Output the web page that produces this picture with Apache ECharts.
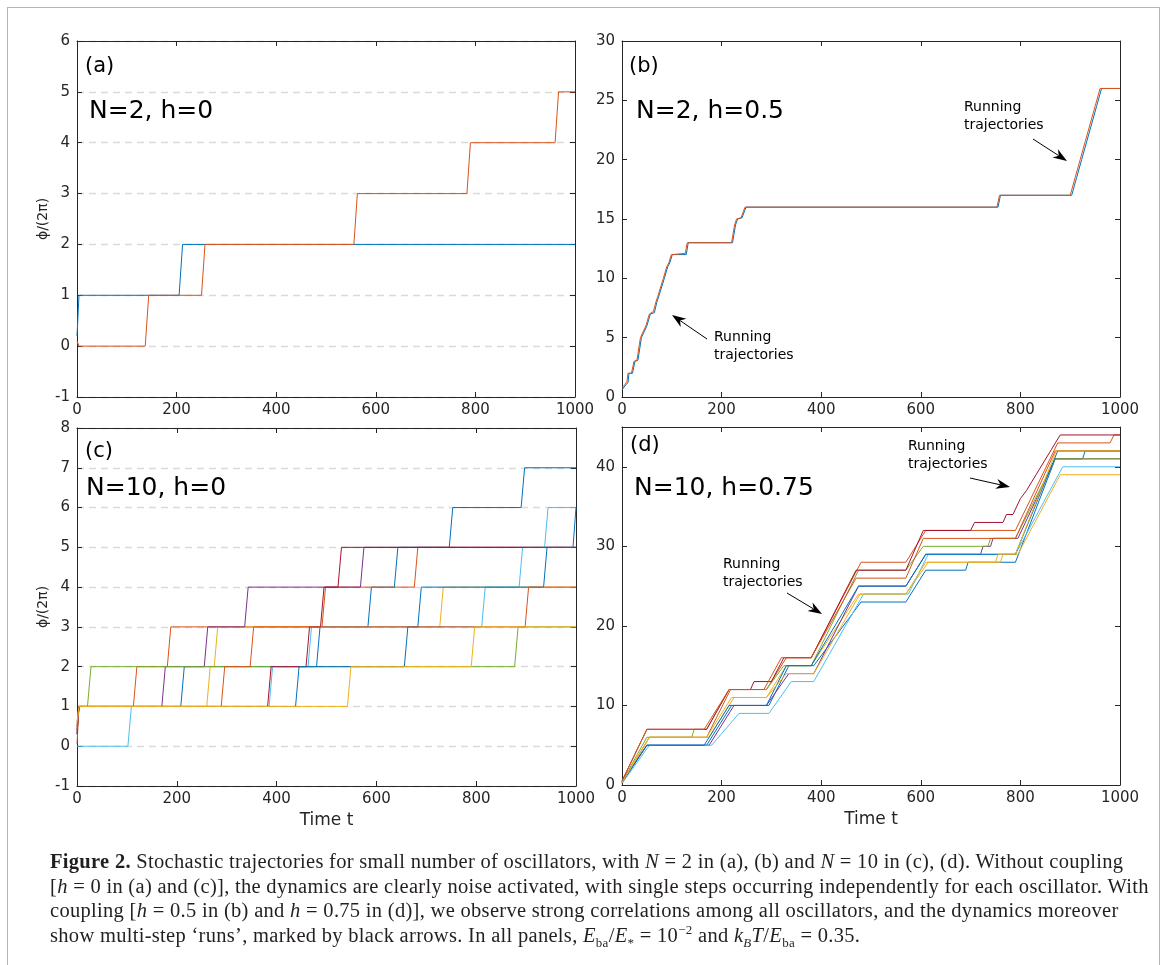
<!DOCTYPE html>
<html>
<head>
<meta charset="utf-8">
<script src="https://cdn.jsdelivr.net/npm/echarts@6/dist/echarts.min.js"></script>
<style>
  body { margin: 0; background: #fff; }
  #frame { position: absolute; left: 7px; top: 7px; width: 1153px; height: 990px; border: 1.5px solid #b4b4b4; box-sizing: border-box; }
  #chart { position: absolute; left: 0; top: 0; width: 1165px; height: 965px; }
  #caption { position: absolute; left: 50px; top: 849px; font-family: 'Liberation Serif', 'DejaVu Serif', serif; font-size: 20.5px; letter-spacing: 0.3px; line-height: 24.5px; color: #231f20; white-space: nowrap; }
  #caption sub, #caption sup { font-size: 13px; line-height: 0; }
</style>
</head>
<body>
<div id="frame"></div>
<div id="chart"></div>
<div id="caption">
  <div><b>Figure 2.</b> Stochastic trajectories for small number of oscillators, with <i>N</i> = 2 in (a), (b) and <i>N</i> = 10 in (c), (d). Without coupling</div>
  <div>[<i>h</i> = 0 in (a) and (c)], the dynamics are clearly noise activated, with single steps occurring independently for each oscillator. With</div>
  <div>coupling [<i>h</i> = 0.5 in (b) and <i>h</i> = 0.75 in (d)], we observe strong correlations among all oscillators, and the dynamics moreover</div>
  <div>show multi-step ‘runs’, marked by black arrows. In all panels, <i>E</i><sub>ba</sub>/<i>E</i><sub>*</sub> = 10<sup>−2</sup> and <i>k<sub>B</sub>T</i>/<i>E</i><sub>ba</sub> = 0.35.</div>
</div>
<script>
// matlab default colour order
const colors = ['#0072BD', '#D95319', '#EDB120', '#7E2F8E', '#77AC30', '#4DBEEE', '#A2142F']

// panel (a): N=2, h=0  -> jump times
const aBlueJumps = [208]
const aOrangeJumps = [140, 253, 559, 786, 963]

// panel (b): N=2, h=0.5  -> read corners [t, phi/2pi]
const bBlue = [[0,0.6],[7,1],[12,1.2],[14,2],[21,2],[26,3],[32,3.1],[39,5],[50,6],[57,7],[65,7.1],[70,8],[74,8.5],[85,10],[92,11],[96,11.3],[101,12],[129,12],[133,13],[222,13],[228,14.5],[232,15],[241,15.1],[249,16],[755,16],[760,17],[903,17],[913,18.5],[923,20],[933,21.5],[943,23],[953,24.5],[963,26],[1000,26]]
const bOrange = [[0,0.8],[5,1],[10,1.3],[12,2],[19,2],[24,3],[30,3.1],[37,5],[48,6],[55,7],[63,7.2],[68,8],[72,8.5],[83,10],[90,11],[94,11.3],[99,12],[127,12.1],[131,13],[220,13],[226,14.5],[230,15],[239,15.1],[247,16],[753,16],[758,17],[900,17],[910,18.5],[920,20],[930,21.5],[940,23],[950,24.5],[960,26],[1000,26]]

// panel (c): N=10, h=0 -> [colour index, start value, first plateau, jump times]
const cTraj = [
  [0, 0.3, 1, [211, 483, 586, 639, 749, 893]],
  [1, 0.05, 1, [116, 184, 494, 679]],
  [2, 0.5, 1, [263, 278, 730]],
  [3, 0.4, 1, [173, 258, 339, 571]],
  [4, 0.6, 1, [24, 880]],
  [5, 0, 0, [105, 388, 466, 814, 889, 940]],
  [6, 0.3, 1, [385, 462, 491, 526]],
  [0, 0.5, 1, [441, 659, 686, 938, 997]],
  [1, 0.4, 1, [292, 350, 901]],
  [2, 0.6, 1, [545, 793]]
]

// panel (d): N=10, h=0.75 -> read corners [t, phi/2pi]
const d1 = [[0,0.3],[50,5],[170,5],[220,10],[295,10],[335,15],[385,15],[480,23],[570,23],[610,27],[690,27],[695,28],[790,28],[870,41],[925,41],[930,42],[1000,42]]
const d2 = [[0,0.3],[55,6],[170,6],[218,12],[290,12],[330,16],[380,16],[480,28],[570,28],[610,32],[790,32],[875,43],[980,43],[988,44],[1000,44]]
const d3 = [[0,0.3],[55,6],[175,6],[225,11],[290,11],[330,15],[380,15],[475,24],[570,24],[615,28],[760,28],[765,29],[795,29],[880,39],[1000,39]]
const d4 = [[0,0.4],[50,5],[175,5],[225,10],[290,10],[335,14],[385,14],[475,25],[570,25],[610,29],[720,29],[725,30],[740,30],[745,31],[795,31],[870,41],[1000,41]]
const d5 = [[0,0.4],[50,6],[140,6],[145,7],[170,7],[215,12],[290,12],[325,15],[380,15],[475,27],[570,27],[605,30],[735,30],[740,31],[790,31],[870,41],[1000,41]]
const d6 = [[0,0.2],[55,5],[180,5],[235,9],[295,9],[340,13],[385,13],[485,24],[575,24],[615,29],[790,29],[885,40],[1000,40]]
const d7 = [[0,0.5],[50,7],[170,7],[215,12],[258,12],[265,13],[300,13],[325,16],[380,16],[470,27],[570,27],[605,32],[700,32],[708,33],[765,33],[772,34],[785,34],[800,36],[812,37],[880,44],[1000,44]]
const d8 = [[0,0.3],[50,5],[165,5],[215,10],[290,10],[330,15],[380,15],[475,25],[570,25],[610,29],[790,29],[875,42],[1000,42]]
const d9 = [[0,0.5],[50,7],[165,7],[215,12],[285,12],[320,16],[380,16],[470,26],[570,26],[605,31],[790,31],[870,42],[1000,42]]
const d10 = [[0,0.3],[55,6],[170,6],[220,11],[290,11],[330,14],[385,14],[478,24],[570,24],[610,28],[750,28],[755,29],[790,29],[872,42],[1000,42]]
const dTraj = [d1, d2, d3, d4, d5, d6, d7, d8, d9, d10]

// step path from jump times
function steps(first, base, jumps) {
  const pts = [[0, first], [4, base]]
  let L = base
  for (const tj of jumps) {
    pts.push([tj - 3, L])
    L += 1
    pts.push([Math.min(tj + 4, 1000), L])
  }
  pts.push([1000, L])
  return pts
}

const ink = '#262626'
const font = 'DejaVu Sans'
const grids = [
  { left: 77, top: 41, width: 498, height: 356 },
  { left: 622, top: 41, width: 498, height: 356 },
  { left: 77, top: 428, width: 499, height: 358 },
  { left: 622, top: 427, width: 498, height: 358 }
]
const yRanges = [[-1, 6, 1, true], [0, 30, 5, false], [-1, 8, 1, true], [0, 45, 10, false]]

let xAxis = [], yAxis = []
grids.forEach((g, i) => {
  const line = { onZero: false, lineStyle: { color: ink, width: 1 } }
  const tick = { inside: true, length: 5, lineStyle: { color: ink } }
  xAxis.push({
    gridIndex: i, type: 'value', min: 0, max: 1000, interval: 200, position: 'bottom',
    axisLine: line, axisTick: tick, splitLine: { show: false },
    axisLabel: { fontSize: 15, color: ink, fontFamily: font, margin: 6, formatter: v => String(v) },
    name: i >= 2 ? 'Time t' : '', nameLocation: 'middle', nameGap: 26,
    nameTextStyle: { fontSize: 17, color: ink, fontFamily: font }
  })
  xAxis.push({
    gridIndex: i, type: 'value', min: 0, max: 1000, interval: 200, position: 'top',
    axisLine: line, axisTick: tick, splitLine: { show: false }, axisLabel: { show: false }
  })
  const r = yRanges[i]
  yAxis.push({
    gridIndex: i, type: 'value', min: r[0], max: r[1], interval: r[2], position: 'left',
    axisLine: line, axisTick: tick,
    axisLabel: { fontSize: 15, color: ink, fontFamily: font, margin: 7, showMaxLabel: i !== 3 },
    splitLine: { show: r[3], lineStyle: { color: '#dadada', type: [7, 5], width: 1.3 } },
    name: r[3] ? 'ϕ/(2π)' : '', nameLocation: 'middle', nameGap: 27, nameRotate: 90,
    nameTextStyle: { fontSize: 14, color: ink, fontFamily: font }
  })
  yAxis.push({
    gridIndex: i, type: 'value', min: r[0], max: r[1], interval: r[2], position: 'right',
    axisLine: line, axisTick: tick, splitLine: { show: false }, axisLabel: { show: false }
  })
})

let series = []
function addLine(panel, data, color) {
  series.push({
    type: 'line', xAxisIndex: panel * 2, yAxisIndex: panel * 2, data: data,
    showSymbol: false, symbol: 'none', silent: true,
    lineStyle: { color: color, width: 1 }
  })
}
addLine(0, steps(0.2, 1, aBlueJumps), colors[0])
addLine(0, steps(0.1, 0, aOrangeJumps), colors[1])
addLine(1, bBlue, colors[0])
addLine(1, bOrange, colors[1])
cTraj.forEach(t => addLine(2, steps(t[1], t[2], t[3]), colors[t[0]]))
dTraj.forEach((d, i) => addLine(3, d, colors[i % 7]))

// annotation arrows
function arrow(x1, y1, x2, y2) {
  const dx = x2 - x1, dy = y2 - y1, L = Math.hypot(dx, dy)
  const ux = dx / L, uy = dy / L, px = -uy, py = ux
  const hl = 14, hw = 5
  const bx = x2 - ux * hl, by = y2 - uy * hl
  return [
    { type: 'line', shape: { x1: x1, y1: y1, x2: bx + ux * 4, y2: by + uy * 4 }, style: { stroke: '#000', lineWidth: 1 } },
    { type: 'polygon', shape: { points: [[x2, y2], [bx + px * hw, by + py * hw], [x2 - ux * hl * 0.7, y2 - uy * hl * 0.7], [bx - px * hw, by - py * hw]] }, style: { fill: '#000' } }
  ]
}
function label(x, y, text, size) {
  return { type: 'text', x: x, y: y, style: { text: text, font: size + 'px "DejaVu Sans"', fill: '#000', verticalAlign: 'middle' } }
}
function note(x, y) {
  return { type: 'text', x: x, y: y, style: { text: 'Running\ntrajectories', font: '14px "DejaVu Sans"', fill: '#000', lineHeight: 18, verticalAlign: 'top' } }
}

const graphic = [
  label(85, 67, '(a)', 21), label(89, 111, 'N=2, h=0', 25),
  label(629, 67, '(b)', 21), label(636, 111, 'N=2, h=0.5', 25),
  label(85, 452, '(c)', 21), label(86, 488, 'N=10, h=0', 25),
  label(630, 446, '(d)', 21), label(634, 488, 'N=10, h=0.75', 25),
  note(964, 98), note(714, 328), note(908, 437), note(723, 555),
  ...arrow(1033, 139, 1067, 161),
  ...arrow(707, 339, 672, 315),
  ...arrow(970, 478, 1010, 487),
  ...arrow(787, 593, 822, 614)
]

const myChart = echarts.init(document.getElementById('chart'))
myChart.setOption({
  animation: false,
  grid: grids,
  xAxis: xAxis,
  yAxis: yAxis,
  series: series,
  graphic: graphic
})
</script>
</body>
</html>
